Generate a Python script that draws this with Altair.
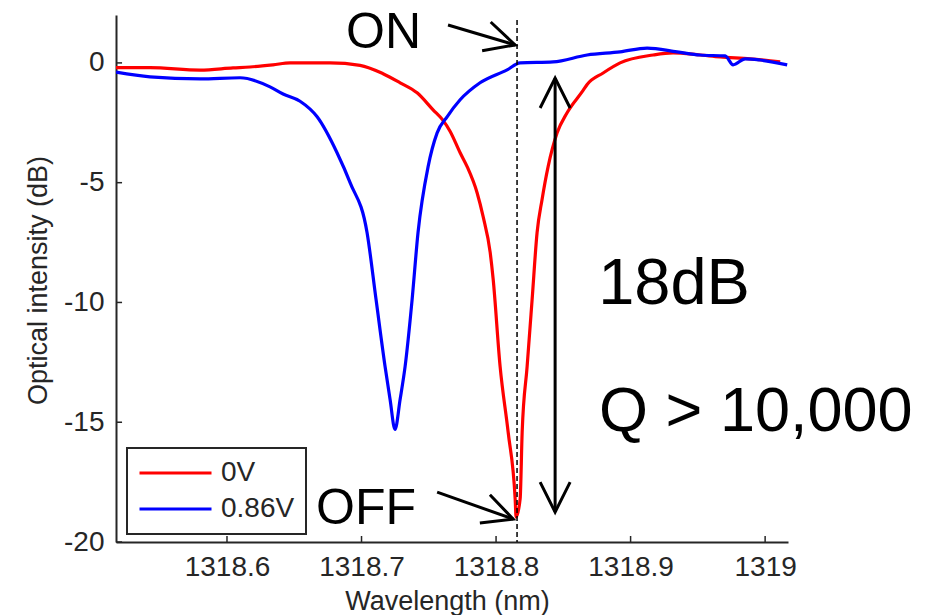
import altair as alt
import pandas as pd

# ---------------- data ----------------
series_names = ["0V", "0.86V"]
series_colors = ["#ff0000", "#0000ff"]

# 0 V trace (wavelength in nm, intensity in dB)
wl_0v = [1318.5175, 1318.5428, 1318.5800, 1318.6045, 1318.6171, 1318.6342, 1318.6469, 1318.6692,
         1318.6766, 1318.6989, 1318.7160, 1318.7287, 1318.7413, 1318.7532, 1318.7606, 1318.7658,
         1318.7733, 1318.7785, 1318.7859, 1318.7904, 1318.7956, 1318.7978, 1318.8030, 1318.8090,
         1318.8142, 1318.8149, 1318.8179, 1318.8194, 1318.8231, 1318.8268, 1318.8305, 1318.8342,
         1318.8387, 1318.8454, 1318.8528, 1318.8647, 1318.8677, 1318.8796, 1318.8922, 1318.9168,
         1318.9316, 1318.9517, 1318.9666, 1318.9889, 1319.0112]
db_0v = [-0.20, -0.20, -0.30, -0.21, -0.17, -0.08, 0.00, 0.00,
         0.00, -0.10, -0.45, -0.83, -1.25, -1.96, -2.40, -2.85,
         -3.75, -4.33, -5.42, -6.42, -7.90, -9.00, -12.67, -15.42,
         -18.20, -18.96, -18.20, -15.42, -12.67, -9.88, -7.08, -5.70,
         -4.33, -2.92, -2.08, -1.15, -0.90, -0.42, 0.00, 0.33,
         0.42, 0.33, 0.25, 0.17, 0.04]

# 0.86 V trace
wl_086 = [1318.5175, 1318.5428, 1318.5800, 1318.6097, 1318.6320, 1318.6417, 1318.6543, 1318.6670,
          1318.6818, 1318.6915, 1318.7041, 1318.7108, 1318.7175, 1318.7212, 1318.7249, 1318.7287,
          1318.7324, 1318.7376, 1318.7420, 1318.7495, 1318.7562, 1318.7636, 1318.7733, 1318.7881,
          1318.8082, 1318.8179, 1318.8424, 1318.8677, 1318.8922, 1318.9123, 1318.9346, 1318.9517,
          1318.9703, 1318.9762, 1318.9852, 1318.9963, 1319.0164]
db_086 = [-0.38, -0.58, -0.67, -0.62, -1.00, -1.30, -1.60, -2.25,
          -3.75, -5.00, -7.08, -9.88, -12.67, -14.04, -15.30, -14.04,
          -12.67, -9.88, -7.08, -4.33, -2.92, -2.25, -1.54, -0.83,
          -0.29, 0.00, 0.04, 0.33, 0.46, 0.62, 0.46, 0.33,
          0.29, -0.08, 0.17, 0.12, -0.08]

x_domain = [1318.5175, 1319.017]
y_domain = [-20, 2]
x_tick_values = [1318.6, 1318.7, 1318.8, 1318.9, 1319.0]
y_tick_values = [-20, -15, -10, -5, 0]

# annotations (data coordinates)
dash_wl = [1318.8156]
dash_top = [1.79]
dash_bottom = [-20.0]

shaft_wl_start = [1318.7643, 1318.7562, 1318.8439]
shaft_db_start = [1.58, -17.92, -18.75]
shaft_wl_end = [1318.8142, 1318.8127, 1318.8439]
shaft_db_end = [0.75, -19.04, -0.63]

head_wl = [1318.8142, 1318.8127, 1318.8439, 1318.8439]
head_db = [0.75, -19.04, -0.63, -18.75]
head_angle = [106.6, 109.6, 0.0, 180.0]

text_labels = ["ON", "OFF", "18dB", "Q > 10,000"]
text_wl = [1318.6885, 1318.6662, 1318.8759, 1318.8766]
text_db = [0.625, -19.25, -10.08, -15.375]
text_size = [50, 50, 65, 63]

# ---------------- build tables ----------------
df_lines = pd.DataFrame({
    "wl": wl_0v + wl_086,
    "db": db_0v + db_086,
    "series": [series_names[0]] * len(wl_0v) + [series_names[1]] * len(wl_086),
})
df_dash = pd.DataFrame({"wl": dash_wl, "db": dash_top, "db2": dash_bottom})
df_shaft = pd.DataFrame({"wl": shaft_wl_start, "db": shaft_db_start,
                         "wl2": shaft_wl_end, "db2": shaft_db_end})
df_head = pd.DataFrame({"wl": head_wl, "db": head_db, "ang": head_angle})
df_text = pd.DataFrame({"wl": text_wl, "db": text_db, "label": text_labels, "fs": text_size})
# inward tick marks: 0.25 dB tall on x axis, 0.0045 nm long on y axis
df_xt = pd.DataFrame({"wl": x_tick_values, "db": [y_domain[0]] * len(x_tick_values),
                      "db2": [y_domain[0] + 0.25] * len(x_tick_values)})
df_yt = pd.DataFrame({"db": y_tick_values, "wl": [x_domain[0]] * len(y_tick_values),
                      "wl2": [x_domain[0] + 0.0045] * len(y_tick_values)})

FONT = "Liberation Sans"
AX = "#262626"

xscale = alt.Scale(domain=x_domain, nice=False, zero=False)
yscale = alt.Scale(domain=y_domain, nice=False, zero=False)

xaxis = alt.Axis(
    title="Wavelength (nm)", values=x_tick_values, format="~f", grid=False,
    ticks=False, tickSize=0, labelFlush=False, labelOverlap=False,
    labelFont=FONT, labelFontSize=28, labelColor=AX, labelPadding=11,
    titleFont=FONT, titleFontSize=27, titleFontWeight="normal", titleColor=AX,
    titleBaseline="alphabetic", titleY=67, titleX=331,
    domainColor=AX, domainWidth=2,
)
yaxis = alt.Axis(
    title="Optical intensity (dB)", values=y_tick_values, labelExpr="'' + datum.value",
    grid=False, ticks=False, tickSize=0, labelFlush=False, labelOverlap=False,
    labelFont=FONT, labelFontSize=28, labelColor=AX, labelPadding=12,
    titleFont=FONT, titleFontSize=27, titleFontWeight="normal", titleColor=AX,
    titleBaseline="alphabetic", titleX=-70, titleY=265,
    domainColor=AX, domainWidth=2,
)

X = alt.X("wl:Q", scale=xscale, axis=xaxis, title="Wavelength (nm)")
Y = alt.Y("db:Q", scale=yscale, axis=yaxis, title="Optical intensity (dB)")

lines = alt.Chart(df_lines).mark_line(strokeWidth=3.2, clip=True, interpolate="monotone").encode(
    x=X,
    y=Y,
    color=alt.Color(
        "series:N",
        scale=alt.Scale(domain=series_names, range=series_colors),
        sort=series_names,
        legend=alt.Legend(
            title=None, orient="none", legendX=11, legendY=433, direction="vertical",
            symbolType="stroke", symbolSize=5184, symbolStrokeWidth=3, clipHeight=28,
            labelFont=FONT, labelFontSize=28, labelColor=AX, labelOffset=8,
            padding=11, rowPadding=8,
        ),
    ),
)

dash = alt.Chart(df_dash).mark_rule(color="black", strokeWidth=1.5, strokeDash=[5, 3]).encode(
    x=X, y=Y, y2="db2:Q",
)

shafts = alt.Chart(df_shaft).mark_rule(color="black", strokeWidth=3).encode(
    x=X, y=Y, x2="wl2:Q", y2="db2:Q",
)

heads = alt.Chart(df_head).mark_point(
    shape="M -0.5 1 L 0 0 L 0.5 1", filled=False, size=3600, strokeWidth=3,
    color="black", opacity=1,
).encode(
    x=X, y=Y, angle=alt.Angle("ang:Q", scale=None),
)

texts = alt.Chart(df_text).mark_text(
    align="left", baseline="alphabetic", font=FONT, color="black",
).encode(
    x=X, y=Y, text="label:N", size=alt.Size("fs:Q", scale=None),
)

xticks = alt.Chart(df_xt).mark_rule(color=AX, strokeWidth=1.5).encode(
    x=X, y=Y, y2="db2:Q",
)
yticks = alt.Chart(df_yt).mark_rule(color=AX, strokeWidth=1.5).encode(
    x=X, y=Y, x2="wl2:Q",
)

chart = alt.layer(lines, dash, shafts, heads, texts, xticks, yticks).properties(
    width=672,
    height=527,
    autosize=alt.AutoSizeParams(type="none"),
    padding={"left": 116, "top": 15, "right": 140, "bottom": 73},
    background="white",
).configure_view(stroke=None).configure_legend(
    strokeColor=AX, strokeWidth=2, fillColor="white"
)

chart.save("out.html", embed_options={"renderer": "svg", "actions": False})
